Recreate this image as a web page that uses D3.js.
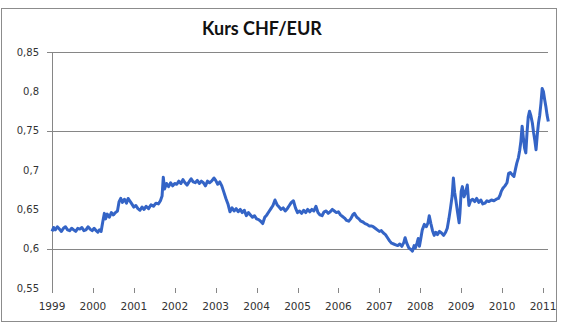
<!DOCTYPE html>
<html>
<head>
<meta charset="utf-8">
<script src="https://cdn.jsdelivr.net/npm/d3@7"></script>
<style>
  html, body { margin: 0; padding: 0; background: #fff; }
  svg { display: block; }
</style>
</head>
<body>
<svg id="chart" width="562" height="323"></svg>
<script>
// Chart data
const chartTitle = 'Kurs CHF/EUR';
const yearTicks = [1999, 2000, 2001, 2002, 2003, 2004, 2005, 2006, 2007, 2008, 2009, 2010, 2011];
const yTicks = [0.55, 0.6, 0.65, 0.7, 0.75, 0.8, 0.85];
const gridValues = [0.6, 0.75, 0.85];

// time as decimal year
const dates = [
  1999.00, 1999.04, 1999.08, 1999.13, 1999.18, 1999.23, 1999.28, 1999.33, 1999.38, 1999.43,
  1999.48, 1999.53, 1999.58, 1999.63, 1999.68, 1999.73, 1999.78, 1999.83, 1999.88, 1999.93,
  1999.98, 2000.03, 2000.08, 2000.12, 2000.16, 2000.20, 2000.24, 2000.28, 2000.31, 2000.35,
  2000.40, 2000.45, 2000.50, 2000.55, 2000.60, 2000.64, 2000.68, 2000.72, 2000.77, 2000.82,
  2000.86, 2000.90, 2000.95, 2001.00, 2001.05, 2001.10, 2001.15, 2001.20, 2001.25, 2001.30,
  2001.36, 2001.42, 2001.48, 2001.54, 2001.60, 2001.65, 2001.69, 2001.72, 2001.75, 2001.80,
  2001.85, 2001.90, 2001.95, 2002.00, 2002.05, 2002.10, 2002.15, 2002.20, 2002.25, 2002.30,
  2002.35, 2002.40, 2002.45, 2002.50, 2002.55, 2002.60, 2002.65, 2002.70, 2002.75, 2002.80,
  2002.85, 2002.90, 2002.96, 2003.00, 2003.05, 2003.10, 2003.15, 2003.20, 2003.25, 2003.30,
  2003.35, 2003.40, 2003.45, 2003.50, 2003.55, 2003.60, 2003.65, 2003.70, 2003.75, 2003.80,
  2003.85, 2003.90, 2003.95, 2004.00, 2004.05, 2004.10, 2004.15, 2004.20, 2004.25, 2004.30,
  2004.35, 2004.40, 2004.45, 2004.50, 2004.55, 2004.60, 2004.65, 2004.70, 2004.75, 2004.80,
  2004.85, 2004.90, 2004.95, 2005.00, 2005.05, 2005.10, 2005.15, 2005.20, 2005.25, 2005.30,
  2005.35, 2005.40, 2005.45, 2005.50, 2005.55, 2005.60, 2005.65, 2005.70, 2005.75, 2005.80,
  2005.85, 2005.90, 2005.95, 2006.00, 2006.05, 2006.10, 2006.15, 2006.20, 2006.25, 2006.30,
  2006.35, 2006.39, 2006.45, 2006.50, 2006.55, 2006.60, 2006.65, 2006.70, 2006.75, 2006.80,
  2006.85, 2006.90, 2006.95, 2007.00, 2007.05, 2007.10, 2007.15, 2007.20, 2007.25, 2007.30,
  2007.35, 2007.40, 2007.45, 2007.50, 2007.55, 2007.60, 2007.63, 2007.67, 2007.72, 2007.77,
  2007.81, 2007.85, 2007.88, 2007.92, 2007.95, 2007.98, 2008.02, 2008.05, 2008.10, 2008.15,
  2008.19, 2008.22, 2008.26, 2008.30, 2008.34, 2008.38, 2008.42, 2008.47, 2008.52, 2008.57,
  2008.62, 2008.66, 2008.70, 2008.74, 2008.78, 2008.81, 2008.84, 2008.87, 2008.91, 2008.95,
  2008.97, 2009.00, 2009.03, 2009.07, 2009.11, 2009.15, 2009.19, 2009.23, 2009.28, 2009.33,
  2009.38, 2009.43, 2009.48, 2009.53, 2009.58, 2009.63, 2009.68, 2009.74, 2009.80, 2009.86,
  2009.91, 2009.95, 2009.98, 2010.02, 2010.07, 2010.12, 2010.16, 2010.20, 2010.25, 2010.29,
  2010.33, 2010.36, 2010.40, 2010.43, 2010.46, 2010.49, 2010.52, 2010.55, 2010.58, 2010.61,
  2010.64, 2010.67, 2010.70, 2010.74, 2010.77, 2010.80, 2010.83, 2010.86, 2010.89, 2010.92,
  2010.95, 2010.98, 2011.01, 2011.04, 2011.07, 2011.10, 2011.13
];

const rates = [
  0.622, 0.627, 0.624, 0.628, 0.625, 0.622, 0.626, 0.628, 0.624, 0.623,
  0.626, 0.624, 0.622, 0.626, 0.625, 0.627, 0.623, 0.624, 0.628, 0.625,
  0.623, 0.626, 0.623, 0.621, 0.624, 0.622, 0.634, 0.645, 0.638, 0.644,
  0.640, 0.646, 0.643, 0.646, 0.648, 0.660, 0.664, 0.659, 0.663, 0.658,
  0.664, 0.661, 0.657, 0.653, 0.655, 0.651, 0.649, 0.653, 0.650, 0.654,
  0.651, 0.656, 0.654, 0.658, 0.657, 0.661, 0.667, 0.691, 0.676, 0.683,
  0.679, 0.684, 0.680, 0.683, 0.682, 0.686, 0.683, 0.688, 0.684, 0.681,
  0.685, 0.689, 0.685, 0.684, 0.687, 0.683, 0.686, 0.684, 0.680, 0.686,
  0.684, 0.686, 0.690, 0.687, 0.682, 0.685, 0.680, 0.672, 0.664, 0.657,
  0.647, 0.652, 0.648, 0.651, 0.647, 0.650, 0.646, 0.649, 0.642, 0.646,
  0.643, 0.640, 0.642, 0.638, 0.637, 0.635, 0.632, 0.640, 0.643, 0.647,
  0.651, 0.655, 0.662, 0.656, 0.653, 0.650, 0.652, 0.648, 0.651, 0.655,
  0.659, 0.661, 0.652, 0.646, 0.648, 0.645, 0.649, 0.646, 0.650, 0.647,
  0.650, 0.648, 0.654, 0.646, 0.643, 0.642, 0.647, 0.648, 0.645, 0.647,
  0.650, 0.648, 0.646, 0.647, 0.643, 0.641, 0.639, 0.636, 0.635, 0.638,
  0.643, 0.645, 0.640, 0.638, 0.635, 0.634, 0.632, 0.631, 0.629, 0.629,
  0.628, 0.626, 0.624, 0.622, 0.623, 0.620, 0.618, 0.614, 0.610, 0.607,
  0.606, 0.605, 0.604, 0.606, 0.603, 0.608, 0.614, 0.607, 0.601, 0.599,
  0.597, 0.604, 0.601, 0.607, 0.613, 0.603, 0.615, 0.624, 0.631, 0.628,
  0.633, 0.642, 0.632, 0.623, 0.617, 0.621, 0.618, 0.622, 0.620, 0.617,
  0.621, 0.626, 0.638, 0.652, 0.667, 0.690, 0.672, 0.662, 0.647, 0.633,
  0.645, 0.673, 0.679, 0.666, 0.672, 0.681, 0.655, 0.661, 0.663, 0.660,
  0.664, 0.659, 0.662, 0.657, 0.658, 0.661, 0.660, 0.662, 0.661, 0.663,
  0.664, 0.668, 0.673, 0.677, 0.680, 0.684, 0.696, 0.697, 0.694, 0.692,
  0.702, 0.709, 0.716, 0.725, 0.737, 0.756, 0.741, 0.728, 0.722, 0.748,
  0.768, 0.775, 0.770, 0.760, 0.748, 0.738, 0.726, 0.745, 0.760, 0.770,
  0.785, 0.804, 0.800, 0.790, 0.781, 0.770, 0.762
];

const svg = d3.select('#chart');

// outer chart frame
svg.append('rect')
  .attr('x', 1.5).attr('y', 8.5)
  .attr('width', 555).attr('height', 313)
  .attr('fill', '#fff')
  .attr('stroke', '#8c8c8c')
  .attr('stroke-width', 1);

// title
svg.append('text')
  .attr('x', 262).attr('y', 35)
  .attr('text-anchor', 'middle')
  .attr('font-family', 'Lato, "Open Sans", sans-serif')
  .attr('font-weight', 'bold')
  .attr('font-size', 18)
  .attr('fill', '#111')
  .text(chartTitle);

const x = d3.scaleLinear().domain([1999, 2011]).range([52, 543]);
const y = d3.scaleLinear().domain([0.55, 0.85]).range([288, 52.3]);

const fmt = v => d3.format('.2~f')(v).replace('.', ',');

// horizontal gridlines (only the ones visible in the reference)
svg.append('g')
  .selectAll('line')
  .data(gridValues)
  .join('line')
  .attr('x1', 47).attr('x2', 548)
  .attr('y1', d => Math.round(y(d)) + 0.5)
  .attr('y2', d => Math.round(y(d)) + 0.5)
  .attr('stroke', '#868686')
  .attr('stroke-width', 1);

// y axis line
svg.append('line')
  .attr('x1', 52.5).attr('x2', 52.5)
  .attr('y1', 52).attr('y2', 293)
  .attr('stroke', '#868686');

// y labels
svg.append('g')
  .selectAll('text')
  .data(yTicks)
  .join('text')
  .attr('x', 39)
  .attr('y', d => y(d) + 3.5)
  .attr('text-anchor', 'end')
  .attr('font-family', '"DejaVu Sans", sans-serif')
  .attr('font-size', 10)
  .attr('fill', '#333')
  .text(fmt);

// x ticks
svg.append('g')
  .selectAll('line')
  .data(yearTicks.slice(1))
  .join('line')
  .attr('x1', d => Math.round(x(d)) + 0.5)
  .attr('x2', d => Math.round(x(d)) + 0.5)
  .attr('y1', 288).attr('y2', 293)
  .attr('stroke', '#868686');

// x labels
svg.append('g')
  .selectAll('text')
  .data(yearTicks)
  .join('text')
  .attr('x', d => x(d))
  .attr('y', 310)
  .attr('text-anchor', 'middle')
  .attr('font-family', '"DejaVu Sans", sans-serif')
  .attr('font-size', 10.5)
  .attr('fill', '#333')
  .text(d => d);

// exchange rate line
const points = dates.map((d, i) => [d, rates[i]]);
const line = d3.line()
  .x(d => x(d[0]))
  .y(d => y(d[1]));

svg.append('path')
  .datum(points)
  .attr('fill', 'none')
  .attr('stroke', '#3464c6')
  .attr('stroke-width', 3)
  .attr('stroke-linejoin', 'round')
  .attr('d', line);
</script>
</body>
</html>
